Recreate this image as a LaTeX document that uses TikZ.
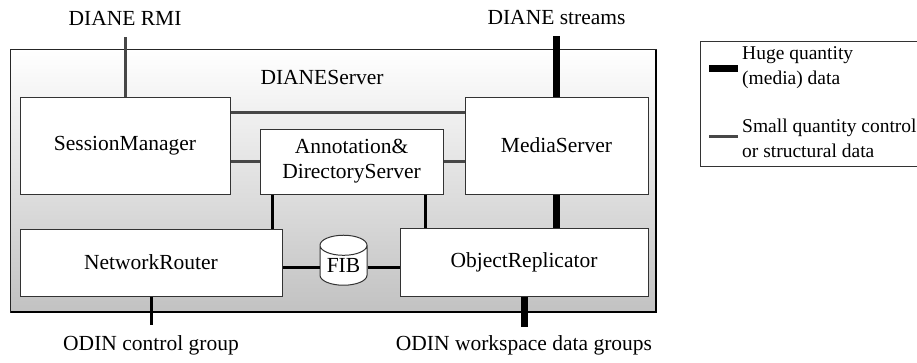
\documentclass[tikz,border=0pt]{standalone}
\usepackage{fontspec}
\setmainfont{Liberation Serif}
\usetikzlibrary{shapes.geometric}
\tikzset{
  part/.style={draw=black!80, fill=white, line width=1pt, font=\fontsize{21.5}{25}\selectfont, align=center, inner sep=0pt},
  ctrl/.style={line width=3pt, draw=black!72},
  datal/.style={line width=3pt, draw=black},
  huge/.style={line width=7pt, draw=black},
  lbl/.style={font=\fontsize{21.5}{25}\selectfont, inner sep=0pt}
}
\begin{document}
\begin{tikzpicture}[x=1pt,y=-1pt]
  \useasboundingbox (0,0) rectangle (917,362);
  % the server frame
  \path[top color=white, bottom color=black!24] (10,49) rectangle (656,312);
  \draw[draw=black!85, line width=1pt] (10,49) rectangle (656,312);
  \draw[line width=2pt] (656,50) -- (656,312) -- (11,312); % shadow edge
  \node[lbl] (srv) at (322,77) {DIANEServer};
  % components
  \node[part, minimum width=210pt, minimum height=97pt] (sm) at (125,145.5) {SessionManager};
  \node[part, minimum width=183pt, minimum height=65pt] (ads) at (351.5,161.5) {Annotation\&\\DirectoryServer};
  \node[part, minimum width=183pt, minimum height=97pt] (ms) at (556.5,145.5) {MediaServer};
  \node[part, minimum width=262pt, minimum height=67pt] (nr) at (151,262.5) {NetworkRouter};
  \node[part, minimum width=248pt, minimum height=68pt] (or) at (524,262) {ObjectReplicator};
  \node[part, cylinder, shape border rotate=90, aspect=0.6, minimum width=47pt, minimum height=50pt] (fib) at (343.5,265.5) {FIB};
  % outside ends
  \coordinate (rmi) at (125,37);
  \coordinate (strm) at (556.5,36);
  \coordinate (odc) at (151,325);
  \coordinate (odw) at (524,327);
  \node[lbl] (rmil) at (125,18) {DIANE RMI};
  \node[lbl] (strml) at (556.5,18) {DIANE streams};
  \node[lbl] (odcl) at (151,345) {ODIN control group};
  \node[lbl] (odwl) at (524,345) {ODIN workspace data groups};
  % connections
  \draw[ctrl] (rmi) -- (sm.north);
  \draw[huge] (strm) -- (ms.north);
  \draw[ctrl] ([yshift=-16pt]sm.north east) -- ([yshift=-16pt]ms.north west);
  \draw[ctrl] (sm.east |- ads.west) -- (ads.west);
  \draw[ctrl] (ads.east) -- (ms.west |- ads.east);
  \draw[datal] ([xshift=13pt]ads.south west) -- ([xshift=13pt]ads.south west |- nr.north);
  \draw[datal] ([xshift=-18pt]ads.south east) -- ([xshift=-18pt]ads.south east |- or.north);
  \draw[huge] (ms.south) -- (ms.south |- or.north);
  \draw[datal] ([yshift=-5pt]nr.east) -- ([yshift=-5pt]nr.east -| fib.west);
  \draw[datal] ([yshift=-5pt]nr.east -| fib.east) -- ([yshift=-5pt]nr.east -| or.west);
  \draw[datal] (nr.south) -- (odc);
  \draw[huge] (or.south) -- (odw);
  % legend
  \draw[draw=black!80, fill=white, line width=1pt] (700,41) rectangle (940,166);
  \coordinate (h1) at (709,68); \coordinate (h2) at (738,68);
  \coordinate (s1) at (709,136); \coordinate (s2) at (738,136);
  \draw[huge] (h1) -- (h2);
  \draw[ctrl] (s1) -- (s2);
  \node[lbl, anchor=west, align=left, font=\fontsize{19.5}{25}\selectfont] (hl) at (742,68) {Huge quantity\\(media) data};
  \node[lbl, anchor=west, align=left, font=\fontsize{19.5}{25}\selectfont] (sl) at (742,138) {Small quantity control\\or structural data};
\end{tikzpicture}
\end{document}
